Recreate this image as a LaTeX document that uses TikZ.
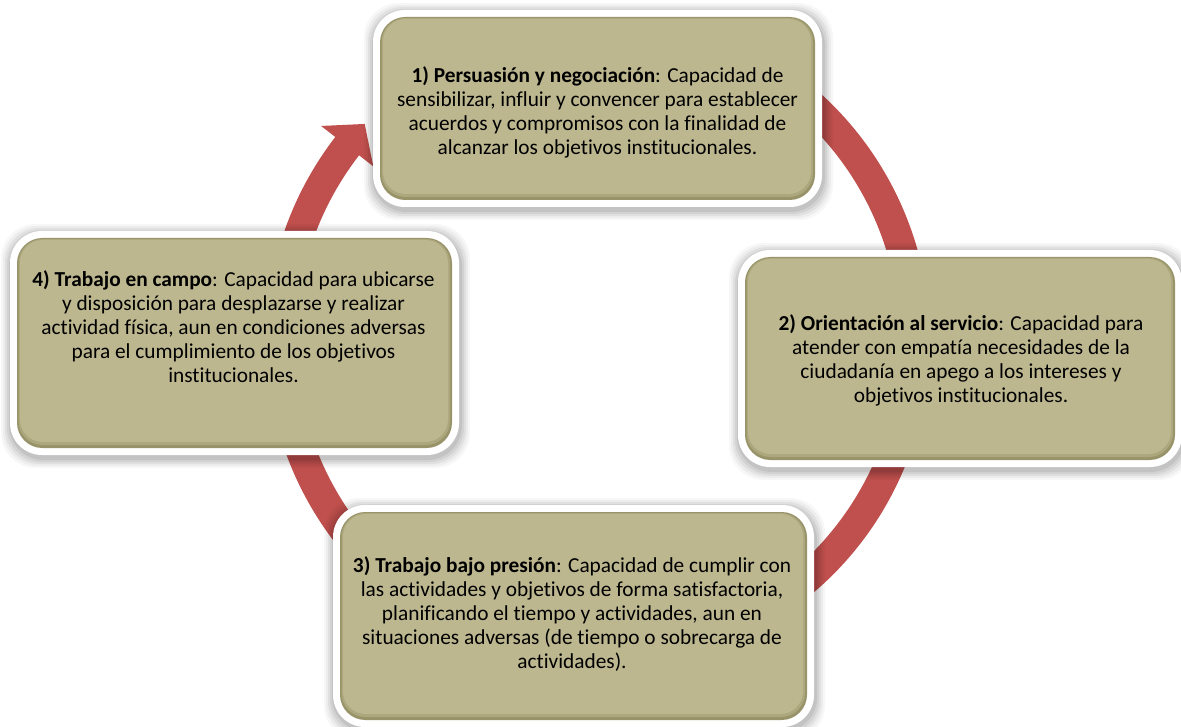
\documentclass[tikz,border=0pt]{standalone}
\usepackage{fontspec}
\setmainfont{Carlito}[Ligatures=NoCommon]
\usetikzlibrary{calc}
\definecolor{ringred}{HTML}{C0504D}
\definecolor{olivemain}{HTML}{BDB78F}
\definecolor{olivemid}{HTML}{ADA77E}
\definecolor{olivedark}{HTML}{99936A}
\tikzset{
  txt/.style={align=center, font=\fontsize{16}{18}\selectfont, text=black, inner sep=0pt},
  whiteframe/.style={fill=white, rounded corners=24pt},
  shadowlayer/.style={fill=black, rounded corners=26pt},
}
% olive card: left, top, right, bottom in image pixels
\newcommand\olivecard[4]{%
  \foreach \s/\o in {10/0.03,8/0.04,6/0.05,4/0.06,2/0.07}{%
    \fill[shadowlayer, opacity=\o] ({#1-7-\s+1},{-#2+7+\s-3}) rectangle ({#3+7+\s+1},{-#4-7-\s-3});
  }%
  \fill[whiteframe] ({#1-7},{-#2+7}) rectangle ({#3+7},{-#4-7});
  \fill[olivedark, rounded corners=19pt] ({#1},{-#2}) rectangle ({#3},{-#4});
  \fill[olivemid, rounded corners=18pt] ({#1+1.5},{-#2-1}) rectangle ({#3-2},{-#4+3});
  \fill[olivemain, rounded corners=17pt] ({#1+3},{-#2-2}) rectangle ({#3-4},{-#4+6});
}
\begin{document}
\begin{tikzpicture}[x=0.75pt, y=0.75pt]
\useasboundingbox (0,0) rectangle (1181,-727);
\fill[white] (0,0) rectangle (1181,-727);
% ring with arrow head
\coordinate (C) at (598,-340);
\fill[ringred] ($(C)+(70:332)$) arc[start angle=70, end angle=-217.7, radius=332]
  -- ($(C)+(142.3:350)$) -- ($(C)+(137.2:318)$) -- ($(C)+(142.3:284)$)
  -- ($(C)+(142.3:302)$) arc[start angle=-217.7, end angle=70, radius=302] -- cycle;
% cards
\olivecard{380}{17}{815}{200}
\olivecard{745}{257}{1175}{460}
\olivecard{340}{512}{807}{720}
\olivecard{17}{238}{452}{448}
% texts
\node[txt] (t1) at (597.5,-112) {\textbf{1) Persuasión y negociación}: Capacidad de\\sensibilizar, influir y convencer para establecer\\acuerdos y compromisos con la finalidad de\\alcanzar los objetivos institucionales.};
\node[txt] (t2) at (961,-360) {\textbf{2) Orientación al servicio}: Capacidad para\\atender con empatía necesidades de la\\ciudadanía en apego a los intereses y\\objetivos institucionales.};
\node[txt] (t3) at (572,-614) {\textbf{3) Trabajo bajo presión}: Capacidad de cumplir con\\las actividades y objetivos de forma satisfactoria,\\planificando el tiempo y actividades, aun en\\situaciones adversas (de tiempo o sobrecarga de\\actividades).};
\node[txt] (t4) at (233.5,-327) {\textbf{4) Trabajo en campo}: Capacidad para ubicarse\\y disposición para desplazarse y realizar\\actividad física, aun en condiciones adversas\\para el cumplimiento de los objetivos\\institucionales.};
\end{tikzpicture}
\end{document}
